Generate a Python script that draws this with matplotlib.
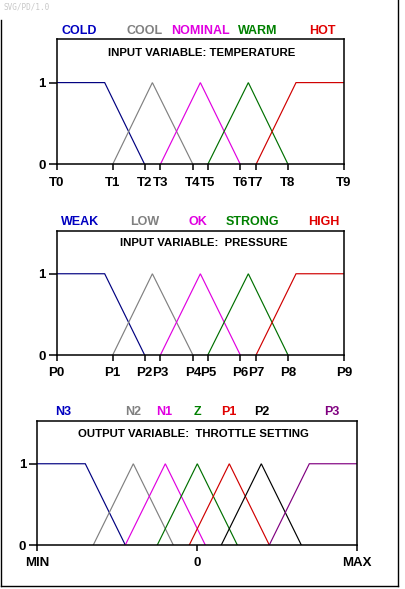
import matplotlib

matplotlib.use("Agg")
import matplotlib.pyplot as plt
from matplotlib.lines import Line2D
from matplotlib.transforms import blended_transform_factory

plt.rcParams["font.family"] = ["Liberation Sans", "DejaVu Sans"]

# --- data -------------------------------------------------------------------
# input variables share the same breakpoints (0..100 scale)
temp_ticks = [0, 19.5, 30.6, 36.1, 47.4, 52.6, 63.9, 69.4, 80.5, 100]
temp_tick_labels = ["T0", "T1", "T2", "T3", "T4", "T5", "T6", "T7", "T8", "T9"]
temp_sets = ["COLD", "COOL", "NOMINAL", "WARM", "HOT"]
temp_xs = [
    [0, 16.7, 30.6],
    [19.5, 33.3, 47.4],
    [36.1, 50.0, 63.9],
    [52.6, 66.7, 80.5],
    [69.4, 83.3, 100],
]
temp_ys = [[1, 1, 0], [0, 1, 0], [0, 1, 0], [0, 1, 0], [0, 1, 1]]
temp_label_x = [7.9, 30.7, 49.9, 69.8, 92.6]

pres_ticks = [0, 19.5, 30.6, 36.1, 47.4, 52.6, 63.9, 69.4, 80.5, 100]
pres_tick_labels = ["P0", "P1", "P2", "P3", "P4", "P5", "P6", "P7", "P8", "P9"]
pres_sets = ["WEAK", "LOW", "OK", "STRONG", "HIGH"]
pres_xs = [
    [0, 16.7, 30.6],
    [19.5, 33.3, 47.4],
    [36.1, 50.0, 63.9],
    [52.6, 66.7, 80.5],
    [69.4, 83.3, 100],
]
pres_ys = [[1, 1, 0], [0, 1, 0], [0, 1, 0], [0, 1, 0], [0, 1, 1]]
pres_label_x = [8.1, 30.6, 49.1, 68.1, 92.8]

thr_ticks = [-1, 0, 1]
thr_tick_labels = ["MIN", "0", "MAX"]
thr_sets = ["N3", "N2", "N1", "Z", "P1", "P2", "P3"]
thr_xs = [
    [-1, -0.70, -0.45],
    [-0.65, -0.40, -0.15],
    [-0.45, -0.20, 0.05],
    [-0.25, 0.0, 0.25],
    [-0.05, 0.20, 0.45],
    [0.15, 0.40, 0.65],
    [0.45, 0.70, 1],
]
thr_ys = [[1, 1, 0], [0, 1, 0], [0, 1, 0], [0, 1, 0], [0, 1, 0], [0, 1, 0], [0, 1, 1]]
thr_label_x = [-0.84, -0.40, -0.21, 0.0, 0.20, 0.40, 0.84]

five_line = ["#000080", "#808080", "#E000E0", "#007000", "#D00000"]
five_text = ["#0000C0", "#808080", "#E000E0", "#008000", "#E00000"]
seven_line = ["#000080", "#808080", "#E000E0", "#007000", "#D00000", "#000000", "#800080"]
seven_text = ["#0000C0", "#808080", "#E000E0", "#008000", "#E00000", "#000000", "#800080"]

W, H = 406, 589
fig = plt.figure(figsize=(W / 100, H / 100), dpi=100)


def panel(rect_px, xlim, ticks, tick_labels, names, xs, ys, label_x,
          line_colors, text_colors, title, title_pos):
    left, top, right, bottom = rect_px
    ax = fig.add_axes([left / W, 1 - bottom / H, (right - left) / W, (bottom - top) / H])
    for x, y, c in zip(xs, ys, line_colors):
        ax.plot(x, y, color=c, lw=0.85, solid_joinstyle="miter")
    ax.set_xlim(*xlim)
    ax.set_ylim(0, 1.53)
    ax.set_xticks(ticks)
    ax.set_xticklabels(tick_labels, fontsize=9.5, fontweight="bold")
    ax.set_yticks([0, 1])
    ax.set_yticklabels(["0", "1"], fontsize=9.5, fontweight="bold")
    ax.tick_params(axis="x", length=4, width=1.1, pad=5, direction="out")
    ax.tick_params(axis="y", length=6, width=1.1, pad=2, direction="out")
    for s in ax.spines.values():
        s.set_linewidth(1.1)
    tr = blended_transform_factory(ax.transData, ax.transAxes)
    for name, lx, c in zip(names, label_x, text_colors):
        ax.text(lx, 1.07, name, transform=tr, ha="center", va="center",
                color=c, fontsize=9, fontweight="bold")
    ax.text(title_pos[0], title_pos[1], title, transform=ax.transAxes,
            ha="center", va="center", fontsize=8.2, fontweight="bold")
    return ax


panel((56.7, 39.3, 344, 164.3), (0, 100), temp_ticks, temp_tick_labels,
      temp_sets, temp_xs, temp_ys, temp_label_x, five_line, five_text,
      "INPUT VARIABLE: TEMPERATURE", (0.505, 0.888))
panel((56.7, 230.7, 344, 355), (0, 100), pres_ticks, pres_tick_labels,
      pres_sets, pres_xs, pres_ys, pres_label_x, five_line, five_text,
      "INPUT VARIABLE:  PRESSURE", (0.512, 0.903))
panel((37.3, 420.7, 357.3, 545), (-1, 1), thr_ticks, thr_tick_labels,
      thr_sets, thr_xs, thr_ys, thr_label_x, seven_line, seven_text,
      "OUTPUT VARIABLE:  THROTTLE SETTING", (0.489, 0.89))

# outer frame (left, bottom, right) and corner stamp
frame = dict(color="black", lw=1.0, transform=fig.transFigure)
fig.add_artist(Line2D([1 / W, 1 / W], [1 - 20 / H, 1 - 586 / H], **frame))
fig.add_artist(Line2D([1 / W, 398.5 / W], [1 - 586 / H, 1 - 586 / H], **frame))
fig.add_artist(Line2D([398.5 / W, 398.5 / W], [1, 1 - 586 / H], **frame))
fig.text(4 / W, 1 - 7 / H, "SVG/PD/1.0", fontsize=5.5, color="#C8C8C8",
         family="DejaVu Sans Mono", va="center")

fig.savefig("out.png", dpi=100)
